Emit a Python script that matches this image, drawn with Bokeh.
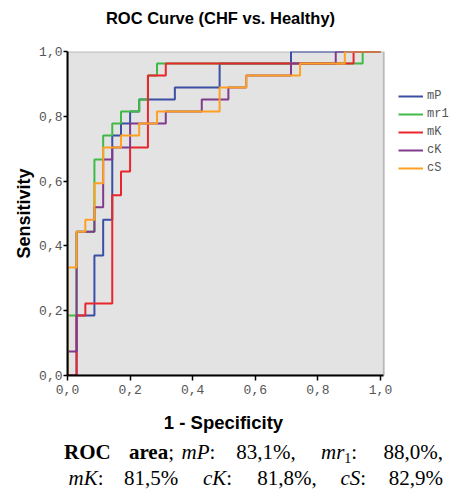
from bokeh.plotting import figure
from bokeh.layouts import column
from bokeh.models import (Legend, LegendItem, FixedTicker, Range1d, BoxAnnotation, Div)
from bokeh.embed import file_html
from bokeh.resources import INLINE

# ---------------- data (ROC points) ----------------
series_names = ["mP", "mr1", "mK", "cK", "cS"]
series_colors = ["#3a4fa3", "#3fba44", "#e8262b", "#803a8c", "#ffa024"]

mP_fpr = [0, 0.029, 0.029, 0.086, 0.086, 0.114, 0.114, 0.143, 0.143, 0.171, 0.171,
          0.2, 0.2, 0.229, 0.229, 0.343, 0.343, 0.486, 0.486, 0.714, 0.714, 1.0]
mP_tpr = [0, 0, 0.185, 0.185, 0.370, 0.370, 0.481, 0.481, 0.741, 0.741, 0.778,
          0.778, 0.815, 0.815, 0.852, 0.852, 0.889, 0.889, 0.963, 0.963, 1.0, 1.0]

mr1_fpr = [0, 0, 0.029, 0.029, 0.086, 0.086, 0.114, 0.114, 0.143, 0.143, 0.171,
           0.171, 0.229, 0.229, 0.257, 0.257, 0.286, 0.286, 0.943, 0.943, 1.0]
mr1_tpr = [0, 0.185, 0.185, 0.444, 0.444, 0.667, 0.667, 0.741, 0.741, 0.778, 0.778,
           0.815, 0.815, 0.852, 0.852, 0.926, 0.926, 0.963, 0.963, 1.0, 1.0]

mK_fpr = [0, 0.029, 0.029, 0.057, 0.057, 0.143, 0.143, 0.171, 0.171, 0.2, 0.2,
          0.257, 0.257, 0.314, 0.314, 0.914, 0.914, 1.0]
mK_tpr = [0, 0, 0.185, 0.185, 0.222, 0.222, 0.556, 0.556, 0.630, 0.630, 0.704,
          0.704, 0.926, 0.926, 0.963, 0.963, 1.0, 1.0]

cK_fpr = [0, 0, 0.029, 0.029, 0.086, 0.086, 0.114, 0.114, 0.143, 0.143, 0.2, 0.2,
          0.314, 0.314, 0.429, 0.429, 0.514, 0.514, 0.571, 0.571, 0.714, 0.714,
          0.857, 0.857, 1.0]
cK_tpr = [0, 0.074, 0.074, 0.444, 0.444, 0.519, 0.519, 0.667, 0.667, 0.704, 0.704,
          0.778, 0.778, 0.815, 0.815, 0.852, 0.852, 0.889, 0.889, 0.926, 0.926,
          0.963, 0.963, 1.0, 1.0]

cS_fpr = [0, 0, 0.029, 0.029, 0.057, 0.057, 0.086, 0.086, 0.114, 0.114, 0.171,
          0.171, 0.229, 0.229, 0.286, 0.286, 0.486, 0.486, 0.571, 0.571, 0.743,
          0.743, 0.886, 0.886, 1.0]
cS_tpr = [0, 0.333, 0.333, 0.444, 0.444, 0.481, 0.481, 0.593, 0.593, 0.704, 0.704,
          0.741, 0.741, 0.778, 0.778, 0.815, 0.815, 0.889, 0.889, 0.926, 0.926,
          0.963, 0.963, 1.0, 1.0]

tick_values = [0.0, 0.2, 0.4, 0.6, 0.8, 1.0]
tick_labels = ["0,0", "0,2", "0,4", "0,6", "0,8", "1,0"]

title_text = "ROC Curve (CHF vs. Healthy)"
x_label = "1 - Specificity"
y_label = "Sensitivity"

# ---------------- layout sizes ----------------
W = 452
H_HEAD, H_MAIN, H_FOOT = 30, 373, 87
FL, FT, FB, FH = 67, 21, 28, 324     # frame placement within the main canvas
FW = W - FL                          # frame runs to the right edge (room for legend)
X_END = 1.0107                       # right edge of the grey plot area (data units)
PX_PER_UNIT = 313.0

# ---------------- main figure ----------------
p = figure(width=W, height=H_MAIN, title=None,
           x_range=Range1d(0, FW / PX_PER_UNIT), y_range=Range1d(0, 1.0),
           output_backend="svg", toolbar_location=None,
           min_border_left=FL, min_border_right=0,
           min_border_top=FT, min_border_bottom=FB)
p.background_fill_color = "white"
p.border_fill_color = "white"
p.outline_line_color = None
p.xgrid.visible = False
p.ygrid.visible = False

# grey plotting area with its border
p.add_layout(BoxAnnotation(left=0, right=X_END, bottom=0, top=1.0,
                           fill_color="#e3e3e3", fill_alpha=1.0,
                           line_color="#505050", line_width=2, level="underlay"))

for ax in (p.xaxis[0], p.yaxis[0]):
    ax.ticker = FixedTicker(ticks=tick_values)
    ax.major_label_overrides = {v: s for v, s in zip(tick_values, tick_labels)}
    ax.axis_line_color = "black"
    ax.axis_line_width = 2
    ax.major_tick_line_color = "black"
    ax.major_tick_line_width = 1.5
    ax.major_tick_in = 0
    ax.minor_tick_line_color = None
    ax.major_label_text_font = "Liberation Mono"
    ax.major_label_text_font_size = "13px"
    ax.major_label_text_color = "#555555"
p.xaxis[0].bounds = (0, X_END)
p.xaxis[0].major_tick_out = 5
p.xaxis[0].major_label_standoff = 4
p.yaxis[0].major_tick_out = 4
p.yaxis[0].major_label_standoff = 1
p.yaxis[0].axis_label = y_label
p.yaxis[0].axis_label_text_font = "Liberation Sans"
p.yaxis[0].axis_label_text_font_size = "18px"
p.yaxis[0].axis_label_text_font_style = "bold"
p.yaxis[0].axis_label_text_color = "black"
p.yaxis[0].axis_label_standoff = 2

series = [(mP_fpr, mP_tpr), (mr1_fpr, mr1_tpr), (mK_fpr, mK_tpr),
          (cK_fpr, cK_tpr), (cS_fpr, cS_tpr)]
items = []
for name, color, (xs, ys) in zip(series_names, series_colors, series):
    r = p.line(xs, ys, line_color=color, line_width=2)
    items.append(LegendItem(label=name, renderers=[r]))

legend = Legend(items=items, location=(331, 198))
legend.glyph_width = 25
legend.glyph_height = 18
legend.label_height = 18
legend.label_standoff = 4
legend.spacing = 0
legend.padding = 0
legend.margin = 0
legend.border_line_color = None
legend.background_fill_alpha = 0
legend.label_text_font = "Liberation Mono"
legend.label_text_font_size = "12px"
legend.label_text_color = "#555555"
p.add_layout(legend, "center")


# ---------------- rich-text strips (title above, axis title + caption below) ----------
def span(html, sx, base, top0, size, align="left", family="Liberation Serif",
         asc=0.891, desc=0.216, extra=""):
    top = base - top0 - (asc * size + (size - (asc + desc) * size) / 2)
    if align == "left":
        pos = f"left:{sx:.1f}px;"
    elif align == "right":
        pos = f"right:{W - sx:.1f}px;"
    else:
        pos = f"left:{sx:.1f}px;transform:translateX(-50%);"
    return (f'<span style="position:absolute;{pos}top:{top:.1f}px;'
            f"font-family:'{family}';font-size:{size}px;line-height:{size}px;"
            f'white-space:nowrap;{extra}">{html}</span>')


def strip(parts, h):
    return Div(text=('<div style="position:relative;width:%dpx;height:%dpx;'
                     'color:black;overflow:visible">%s</div>' % (W, h, "".join(parts))),
               width=W, height=h, margin=0)


head = strip([span(f"<b>{title_text}</b>", 220.5, 23.5, 0, 16.5, align="center",
                   family="Liberation Sans", asc=0.905, desc=0.212)], H_HEAD)

TOP = H_HEAD + H_MAIN
FS = 21
L1, L2 = 459.5, 485.5
foot_parts = [
    span(f"<b>{x_label}</b>", 223.5, 429.5, TOP, 18.5, align="center",
         family="Liberation Sans", asc=0.905, desc=0.212),
    span("<b>ROC</b>", 64, L1, TOP, FS),
    span("<b>area</b>;", 174, L1, TOP, FS, align="right"),
    span("<i>mP</i>:", 181.5, L1, TOP, FS),
    span("83,1%,", 266, L1, TOP, FS, align="center"),
    span('<i>mr</i><span style="font-size:14px;position:relative;top:4px">1</span>:',
         321, L1, TOP, FS),
    span("88,0%,", 443, L1, TOP, FS, align="right"),
    span("<i>mK</i>:", 68.5, L2, TOP, FS),
    span("81,5%", 151, L2, TOP, FS, align="center"),
    span("<i>cK</i>:", 203, L2, TOP, FS),
    span("81,8%,", 287, L2, TOP, FS, align="center"),
    span("<i>cS</i>:", 340.5, L2, TOP, FS),
    span("82,9%", 443, L2, TOP, FS, align="right"),
]
foot = strip(foot_parts, H_FOOT)

layout = column(head, p, foot, spacing=0)
open("out.html", "w").write(file_html(layout, INLINE))
